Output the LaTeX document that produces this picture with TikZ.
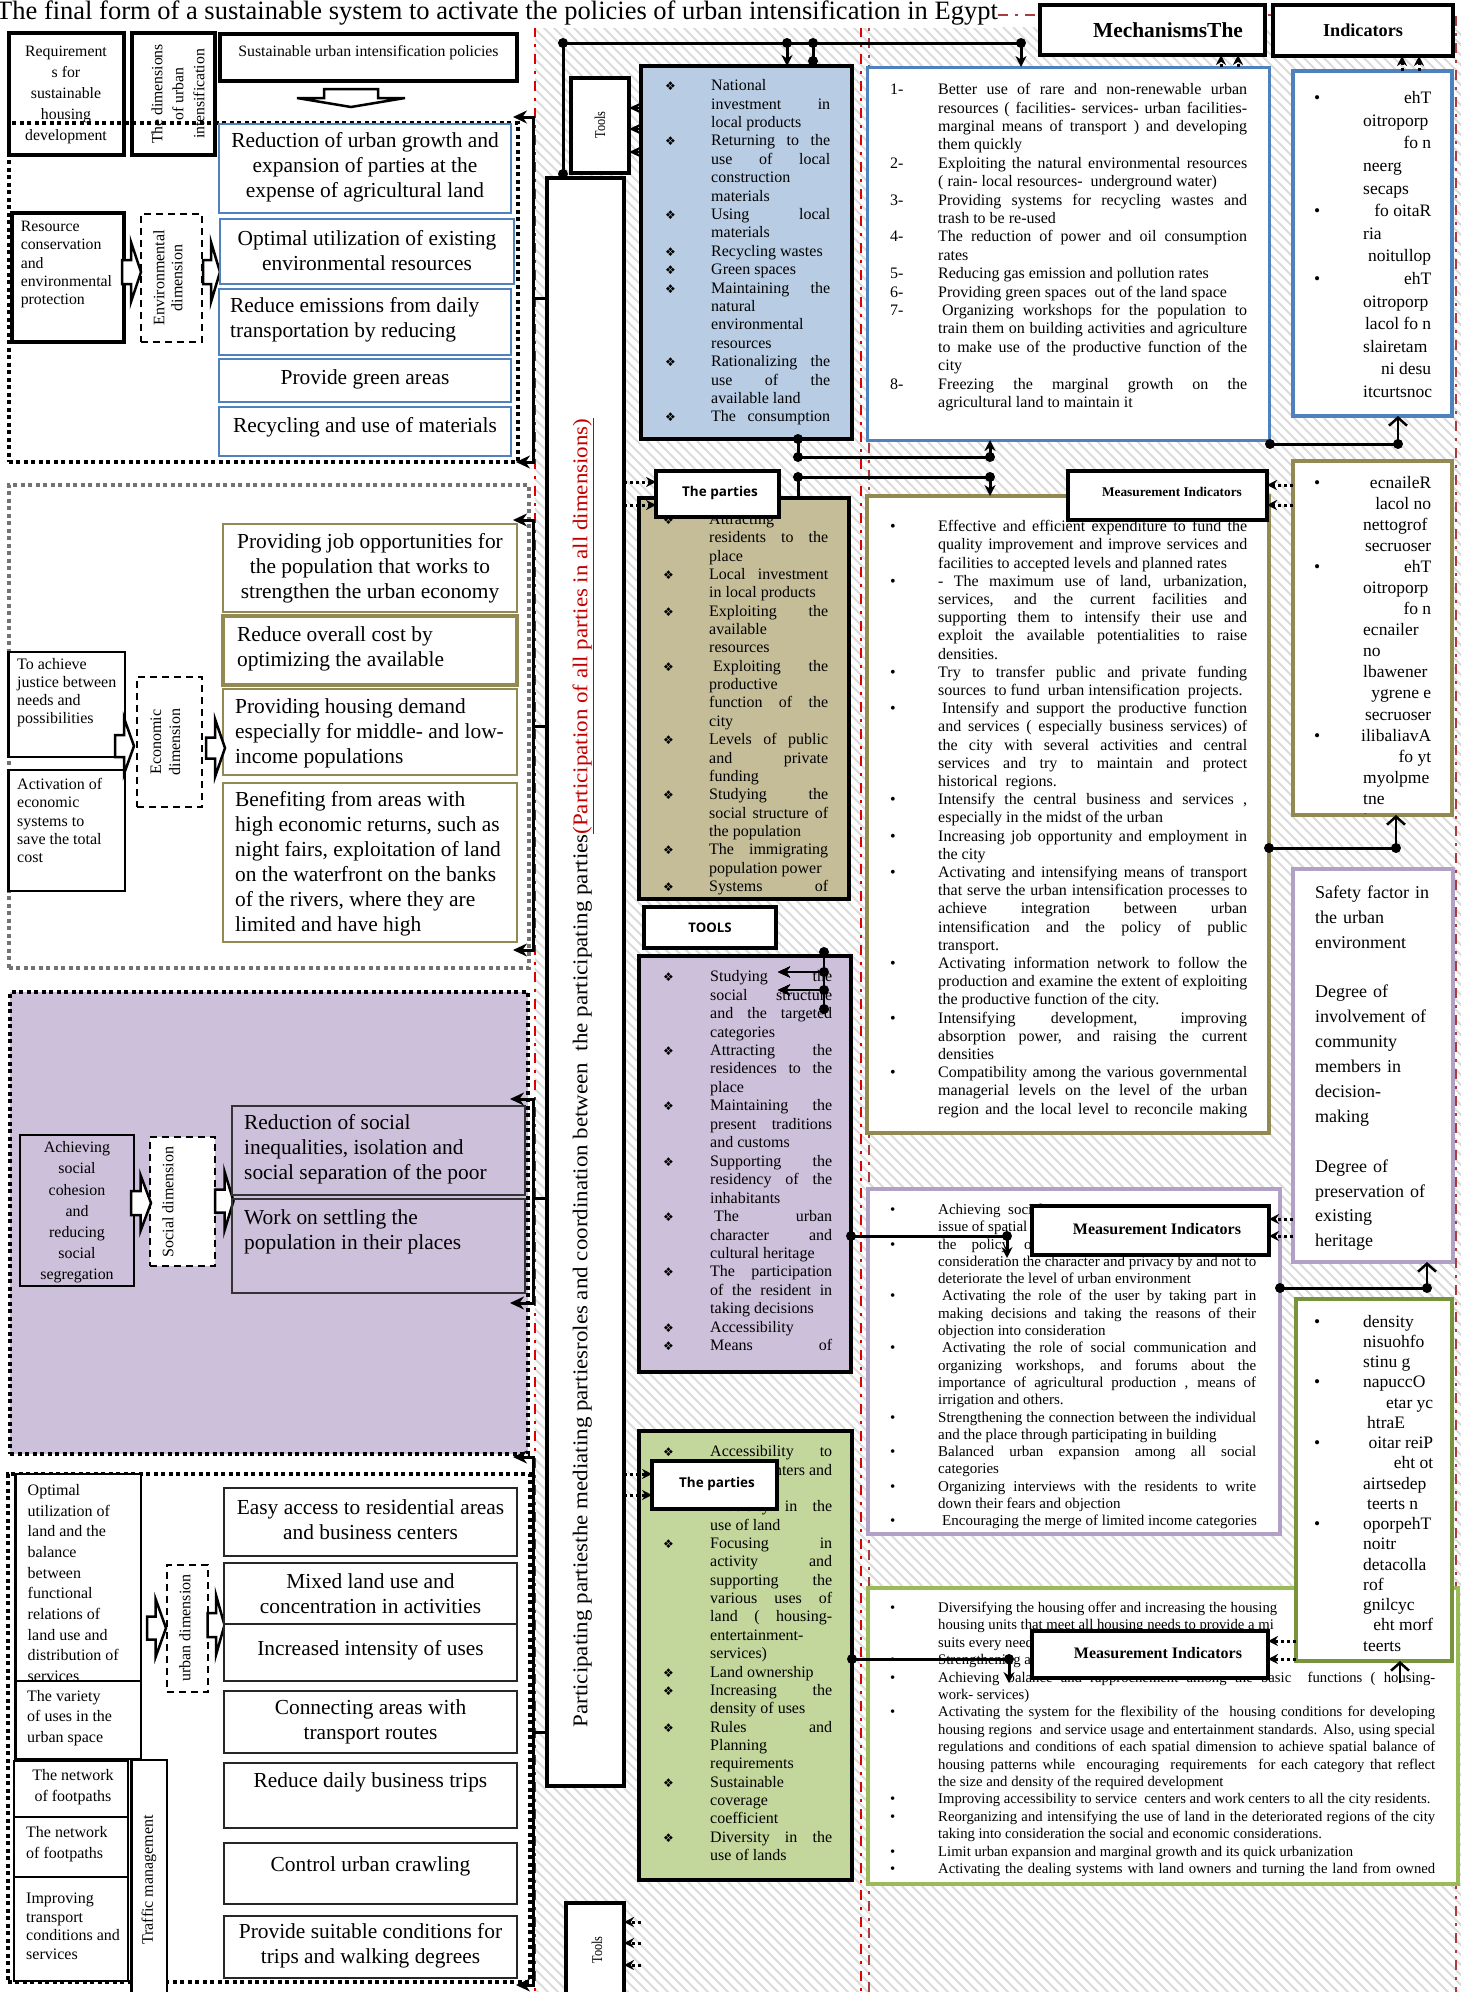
\documentclass[tikz,border=0pt]{standalone}
\usepackage{fontspec}
\setmainfont{Liberation Serif}
\newfontfamily\osans{Open Sans}
\newfontfamily\dejavu{DejaVu Sans}
\usetikzlibrary{arrows.meta}

\definecolor{blueb}{RGB}{79,129,189}
\definecolor{oliveb}{RGB}{147,137,83}
\definecolor{purpb}{RGB}{178,161,199}
\definecolor{greenb}{RGB}{155,187,89}
\definecolor{greend}{RGB}{119,147,60}
\definecolor{tblue}{RGB}{184,204,228}
\definecolor{tolive}{RGB}{196,189,151}
\definecolor{tpurp}{RGB}{204,192,218}
\definecolor{tgreen}{RGB}{195,214,155}
\definecolor{redl}{RGB}{225,0,0}
\definecolor{redd}{RGB}{170,60,60}
\definecolor{dred}{RGB}{192,0,0}

\newcommand\fs[2]{\fontsize{#1}{#2}\selectfont}
\newlength\bw
\newlength\tw
% one list line: marker column, then text column aligned l / r / s(pread)
\newcommand\LN[3]{\strut\makebox[\bw][l]{#1}\makebox[\tw][#2]{\spaceskip=0pt\xspaceskip=0pt #3}}
\newcommand\dia{{\dejavu\fontsize{12}{12}\selectfont ❖}}
\newcommand\bul{•}
% box given by its corners (x1,y1) (x2,y2), y counted downwards
\newcommand\rbox[6][]{\node[inner sep=0pt, outer sep=0pt, anchor=north west,
  minimum width={(#4)-(#2)}, minimum height={(#5)-(#3)}, #1] (#6) at (#2,#3) {};}
% hollow block arrow pointing right: x0 x1 x2 yc half-stem half-head
\newcommand\harr[6]{\draw[harrow] ({#1},{#4-#5}) -- ({#2},{#4-#5}) -- ({#2},{#4-#6}) -- ({#3},{#4})
  -- ({#2},{#4+#6}) -- ({#2},{#4+#5}) -- ({#1},{#4+#5}) -- cycle;}
\newcommand\jd[1]{\fill #1 circle (5pt);}

\tikzset{
  hatch/.style={draw=black!14, line width=1.8pt},
  redline/.style={draw=redl, line width=2.5pt, dash pattern=on 10pt off 7pt on 3pt off 7pt},
  redline2/.style={draw=redd, line width=2.5pt, dash pattern=on 10pt off 7pt on 3pt off 7pt},
  hdr/.style={draw, line width=4pt, fill=white},
  dotgrp/.style={draw, line width=4pt, dash pattern=on 4pt off 3.5pt},
  dashbox/.style={draw, line width=2pt, dash pattern=on 7pt off 5pt, fill=white},
  envb/.style={draw=blueb, line width=1.8pt, fill=white},
  econb/.style={draw=oliveb, line width=1.8pt, fill=white},
  lbox/.style={draw, line width=2.5pt, fill=white},
  sbox/.style={draw, line width=2.5pt},
  srbox/.style={draw=black!80, line width=2pt},
  ubox/.style={draw=black!85, line width=2pt, fill=white},
  tbox/.style={draw, line width=4pt},
  framebox/.style={line width=3.5pt, fill=white},
  harrow/.style={draw, line width=2.5pt, fill=white, line join=miter},
  lst/.style={anchor=west, inner sep=0pt, align=left},
  conn/.style={line width=3pt},
  carr/.style={line width=3pt, -{Stealth[length=11pt,width=11pt]}},
  iarr/.style={line width=2.5pt, -{Straight Barb[length=8pt,width=18pt]}},
  tarr/.style={line width=2pt, -{Stealth[length=12pt,width=11pt]}},
  darr/.style={line width=3pt, dash pattern=on 3pt off 3pt, -{Stealth[length=10pt,width=10pt]}},
  brk/.style={line width=3pt, {Stealth[length=14pt,width=13pt]}-{Stealth[length=14pt,width=13pt]}},
  big/.style={font=\fs{21.4}{25}},
  mi/.style={font=\fs{13.3}{15}\bfseries}
}

\begin{document}
\begin{tikzpicture}[x=1pt,y=-1pt]
\useasboundingbox (0,0) rectangle (1461,1992);
\fill[white] (0,0) rectangle (1461,1992);

% hatched ground of the middle and right columns
\begin{scope}
  \clip (535,27) rectangle (1461,1992);
  \foreach \i in {0,...,296} \draw[hatch] ({-1457+\i*10},27) -- ++(2000,2000);
\end{scope}
\draw[redline] (535,27) -- (535,1992);
\draw[redline] (861,27) -- (861,1992);
\draw[redline2] (869,1992) -- (869,15) -- (1456,15) -- (1456,1992);

% title
\node[anchor=base west, inner sep=0pt, inner ysep=3pt, fill=white, font=\fs{26.5}{30}] (title) at (-4,19)
  {The final form of a sustainable system to activate the policies of urban intensification in Egypt};

% ================= left column =================
% economic group (grey dots)
\rbox[dotgrp, draw=black!55]{8.6}{485}{529}{968}{ecg}
% social group (filled)
\rbox[dotgrp, fill=tpurp]{10}{992}{528}{1454}{sg}
% urban group
\rbox[dotgrp]{7.6}{1474}{530}{1982}{ug}

% header boxes
\rbox[hdr]{8.6}{33}{124}{155}{req}
\node[align=center, font=\fs{15.8}{21}] at (66,94.5) {Requirement\\s for\\sustainable\\housing\\development};
\rbox[hdr]{132}{33}{215}{155}{dims}
\begin{scope}
  \clip (134,35) rectangle (205,153);
  \node[rotate=90, align=center, font=\fs{15.7}{21}] at (178,94) {The dimensions\\of urban\\intensification};
\end{scope}
\rbox[hdr]{220}{34}{517}{81}{pol}
\node[font=\fs{15.8}{18}] at (368.5,53) {Sustainable urban intensification policies};
\draw[harrow] (324,89) -- (378,89) -- (378,98) -- (405,98) -- (351,107) -- (297,98) -- (324,98) -- cycle;

% environmental group
\rbox[dotgrp]{8.6}{123}{518}{462}{envg}
\rbox[hdr]{12}{213}{124}{342}{res}
\node[lst, font=\fs{15.8}{18.3}] at (20.6,264.6) {Resource\\conservation\\and\\environmental\\protection};
\rbox[dashbox]{141}{214}{202}{342}{envd}
\node[rotate=90, align=center, font=\fs{16}{18}] at (168,278) {Environmental\\dimension};
\harr{122}{131}{141}{272}{12}{30}
\harr{203}{211}{220}{272}{12}{30}
\rbox[envb]{219}{124}{511}{213}{e1}
\node[big, align=center] at (365,167) {Reduction of urban growth and\\expansion of parties at the\\expense of agricultural land};
\rbox[envb]{220}{219}{514}{284}{e2}
\node[big, align=center] at (367,250.5) {Optimal utilization of existing\\environmental resources};
\rbox[envb]{219}{289}{511}{355}{e3}
\node[big, lst] at (230,320) {Reduce emissions from daily\\transportation by reducing};
\rbox[envb]{219}{359}{511}{402}{e4}
\node[big] at (365,379) {Provide green areas};
\rbox[envb]{219}{407}{511}{456}{e5}
\node[big] at (365,427) {Recycling and use of materials};

% economic group content
\rbox[econb]{223}{524}{517}{612}{c1}
\node[big, align=center] at (370,568.5) {Providing job opportunities for\\the population that works to\\strengthen the urban economy};
\rbox[econb, line width=3.5pt]{223}{616}{517}{685}{c2}
\node[big, lst] at (237,649) {Reduce overall cost by\\optimizing the available};
\rbox[econb]{223}{689}{517}{775}{c3}
\node[big, lst] at (235,733.5) {Providing housing demand\\especially for middle- and low-\\income populations};
\rbox[econb]{223}{783}{517}{942}{c4}
\node[big, lst] at (235,864) {Benefiting from areas with\\high economic returns, such as\\night fairs, exploitation of land\\on the waterfront on the banks\\of the rivers, where they are\\limited and have high};
\rbox[lbox]{8.6}{652}{125}{757}{ec1}
\node[lst, font=\fs{16}{18}] at (17,693) {To achieve\\justice between\\needs and\\possibilities};
\rbox[lbox]{8.6}{770}{125}{891}{ec2}
\node[lst, font=\fs{16}{18.2}] at (17,820.6) {Activation of\\economic\\systems to\\save the total\\cost};
\rbox[dashbox]{137}{677}{202}{807}{ecd}
\node[rotate=90, align=center, font=\fs{16}{19}] at (165.5,742) {Economic\\dimension};
\harr{115}{124}{134}{746}{11}{28}
\harr{206}{215}{225}{748}{10.5}{29}

% social group content
\rbox[sbox]{20}{1135}{134}{1286}{sl}
\node[align=center, font=\fs{15.9}{21.2}] at (77,1212.5) {Achieving\\social\\cohesion\\and\\reducing\\social\\segregation};
\rbox[dashbox]{150}{1137}{215}{1266}{sd}
\node[rotate=90, font=\fs{16}{18}] at (168,1202) {Social dimension};
\harr{131}{140.5}{151}{1203}{12}{28}
\harr{215}{224.5}{233.5}{1201}{11.5}{29.5}
\rbox[srbox]{232}{1106}{525}{1195}{s1}
\node[big, lst] at (244,1149.7) {Reduction of social\\inequalities, isolation and\\social separation of the poor};
\rbox[srbox]{232}{1199}{525}{1293}{s2}
\node[big, lst] at (244,1231.5) {Work on settling the\\population in their places};

% urban group content
\rbox[lbox]{15.5}{1474}{141}{1681}{ul1}
\begin{scope}
  \clip (17,1476) rectangle (139,1679);
  \node[lst, font=\fs{16}{20.7}] at (27.5,1583) {Optimal\\utilization of\\land and the\\balance\\between\\functional\\relations of\\land use and\\distribution of\\services};
\end{scope}
\rbox[lbox]{15.5}{1681}{141}{1759}{ul2}
\node[lst, font=\fs{16}{20.7}] at (27,1718) {The variety\\of uses in the\\urban space};
\rbox[lbox]{14}{1761}{128}{1817}{ul3}
\node[align=center, font=\fs{16}{21.5}] at (73,1787) {The network\\of footpaths};
\rbox[lbox]{14}{1817}{128}{1877}{ul4}
\node[lst, font=\fs{16}{20.5}] at (26,1844) {The network\\of footpaths};
\rbox[lbox]{14}{1877}{128}{1981}{ul5}
\node[lst, font=\fs{16}{18.5}] at (26,1926.5) {Improving\\transport\\conditions and\\services};
\rbox[lbox]{131.5}{1760}{167}{1997}{tm}
\node[rotate=90, font=\fs{16}{18}] at (149,1880) {Traffic management};
\rbox[dashbox]{167}{1565}{208}{1692}{ud}
\node[rotate=90, font=\fs{16}{18}] at (185,1628) {urban dimension};
\harr{147}{155.6}{166}{1628}{11.5}{29}
\harr{207.6}{216}{224.5}{1625}{12}{30}
\rbox[ubox]{224}{1488}{517}{1556}{u1}
\node[big, align=center] at (370.5,1519.5) {Easy access to residential areas\\and business centers};
\rbox[ubox]{224}{1563}{517}{1624}{u2}
\node[big, align=center] at (370.5,1594) {Mixed land use and\\concentration in activities};
\rbox[ubox]{224}{1624}{517}{1681}{u3}
\node[big] at (370.5,1650) {Increased intensity of uses};
\rbox[ubox]{224}{1691}{517}{1753}{u4}
\node[big, align=center] at (370.5,1722) {Connecting areas with\\transport routes};
\rbox[ubox]{224}{1763}{517}{1828}{u5}
\node[big] at (370.5,1782) {Reduce daily business trips};
\rbox[ubox]{224}{1843}{517}{1904}{u6}
\node[big] at (370.5,1866) {Control urban crawling};
\rbox[ubox]{224}{1916}{517}{1978}{u7}
\node[big, align=center] at (370.5,1945.5) {Provide suitable conditions for\\trips and walking degrees};

% brackets gathering each group towards the participation column
\draw[brk] (513,117) -- (533,117) -- (533,462) -- (516,462);
\draw[brk] (513,520) -- (533,520) -- (533,950) -- (513,950);
\draw[brk] (510,1099) -- (533,1099) -- (533,1303) -- (510,1303);
\draw[brk] (513,1457) -- (533,1457) -- (533,1985) -- (516,1985);

% ================= middle column =================
\rbox[hdr]{547}{178}{624}{1786}{vbox}
\node[rotate=90, inner sep=0pt] (vtext) at (583,1073) {\resizebox*{1309pt}{21pt}{\fs{24}{24}Participating partiesthe mediating partiesroles and coordination between\ \ the participating parties\textcolor{dred}{\underline{(Participation of all parties in all dimensions)}}}};
\foreach \yy in {298,726,1198,1732} \draw[conn] (533,\yy) -- (547,\yy);

\rbox[hdr]{571}{77.5}{629}{173}{tools1}
\node[rotate=90] at (600,125) {\scalebox{0.82}[1]{\fs{15}{15}Tools}};

% blue tools box
\rbox[tbox, fill=tblue]{641}{66}{852}{439}{tb}
\begin{scope}
\clip (643,68) rectangle (850,437);
\node[lst, text width=165pt, font=\fs{16}{18.4}] at (665,252.6) {\setlength\bw{46pt}\setlength\tw{119pt}%
\LN{\dia}{l}{National}\\
\LN{}{s}{investment in}\\
\LN{}{l}{local products}\\
\LN{\dia}{s}{Returning to the}\\
\LN{}{s}{use of local}\\
\LN{}{l}{construction}\\
\LN{}{l}{materials}\\
\LN{\dia}{s}{Using local}\\
\LN{}{l}{materials}\\
\LN{\dia}{l}{Recycling wastes}\\
\LN{\dia}{l}{Green spaces}\\
\LN{\dia}{s}{Maintaining the}\\
\LN{}{l}{natural}\\
\LN{}{l}{environmental}\\
\LN{}{l}{resources}\\
\LN{\dia}{s}{Rationalizing the}\\
\LN{}{s}{use of the}\\
\LN{}{l}{available land}\\
\LN{\dia}{s}{The consumption}};
\end{scope}
\foreach \yy in {108,129,152} \draw[tarr] (641,\yy) -- (629,\yy);

% olive parties box
\rbox[tbox, fill=tolive]{639}{498}{849}{899}{ob}
\begin{scope}
\clip (641,500) rectangle (847,897);
\node[lst, text width=165pt, font=\fs{16}{18.37}] at (663,704.3) {\setlength\bw{46pt}\setlength\tw{119pt}%
\LN{\dia}{l}{Attracting}\\
\LN{}{s}{residents to the}\\
\LN{}{l}{place}\\
\LN{\dia}{s}{Local investment}\\
\LN{}{l}{in local products}\\
\LN{\dia}{s}{Exploiting the}\\
\LN{}{l}{available}\\
\LN{}{l}{resources}\\
\LN{\dia}{s}{\hspace{4pt}Exploiting the}\\
\LN{}{l}{productive}\\
\LN{}{s}{function of the}\\
\LN{}{l}{city}\\
\LN{\dia}{s}{Levels of public}\\
\LN{}{s}{and private}\\
\LN{}{l}{funding}\\
\LN{\dia}{s}{Studying the}\\
\LN{}{s}{social structure of}\\
\LN{}{l}{the population}\\
\LN{\dia}{s}{The immigrating}\\
\LN{}{l}{population power}\\
\LN{\dia}{s}{Systems of}};
\end{scope}
\rbox[hdr]{656}{471}{779}{517}{p1}
\node[font=\fs{13.5}{15}\osans\bfseries] at (720,493) {The parties};

% purple tools box
\rbox[hdr]{644}{907}{776}{948}{tl}
\node[font=\fs{13.2}{15}\osans\bfseries] at (710,928) {TOOLS};
\rbox[tbox, fill=tpurp]{639}{956}{851}{1372}{pb}
\begin{scope}
\clip (641,958) rectangle (849,1370);
\node[lst, text width=169pt, font=\fs{16}{18.45}] at (663,1162.5) {\setlength\bw{47pt}\setlength\tw{122pt}%
\LN{\dia}{s}{Studying the}\\
\LN{}{s}{social structure}\\
\LN{}{s}{and the targeted}\\
\LN{}{l}{categories}\\
\LN{\dia}{s}{Attracting the}\\
\LN{}{s}{residences to the}\\
\LN{}{l}{place}\\
\LN{\dia}{s}{Maintaining the}\\
\LN{}{s}{present traditions}\\
\LN{}{l}{and customs}\\
\LN{\dia}{s}{Supporting the}\\
\LN{}{s}{residency of the}\\
\LN{}{l}{inhabitants}\\
\LN{\dia}{s}{\hspace{4pt}The urban}\\
\LN{}{s}{character and}\\
\LN{}{l}{cultural heritage}\\
\LN{\dia}{s}{The participation}\\
\LN{}{s}{of the resident in}\\
\LN{}{l}{taking decisions}\\
\LN{\dia}{l}{Accessibility}\\
\LN{\dia}{s}{Means of}};
\end{scope}

% green parties box
\rbox[tbox, fill=tgreen]{639}{1431}{852}{1880}{gb}
\begin{scope}
\clip (641,1433) rectangle (850,1878);
\node[lst, text width=169pt, font=\fs{16}{18.35}] at (663,1655) {\setlength\bw{47pt}\setlength\tw{122pt}%
\LN{\dia}{s}{Accessibility to}\\
\LN{}{r}{centers and}\\
\LN{}{l}{}\\
\LN{\dia}{s}{Diversity in the}\\
\LN{}{l}{use of land}\\
\LN{\dia}{s}{Focusing in}\\
\LN{}{s}{activity and}\\
\LN{}{s}{supporting the}\\
\LN{}{s}{various uses of}\\
\LN{}{s}{land ( housing-}\\
\LN{}{l}{entertainment-}\\
\LN{}{l}{services)}\\
\LN{\dia}{l}{Land ownership}\\
\LN{\dia}{s}{Increasing the}\\
\LN{}{l}{density of uses}\\
\LN{\dia}{s}{Rules and}\\
\LN{}{l}{Planning}\\
\LN{}{l}{requirements}\\
\LN{\dia}{l}{Sustainable}\\
\LN{}{l}{coverage}\\
\LN{}{l}{coefficient}\\
\LN{\dia}{s}{Diversity in the}\\
\LN{}{l}{use of lands}};
\end{scope}
\rbox[hdr]{652}{1461}{777}{1509}{p2}
\node[font=\fs{13.5}{15}\osans\bfseries] at (717,1484) {The parties};

\rbox[hdr]{566}{1903}{624}{1998}{tools2}
\node[rotate=90] at (597,1950) {\scalebox{0.82}[1]{\fs{15}{15}Tools}};

% ================= right columns =================
\rbox[hdr]{1040}{5}{1265}{55}{mlab}
\node[font=\fs{21.4}{24}\bfseries] at (1168,30) {MechanismsThe};
\rbox[hdr]{1273}{5}{1453}{56}{ilab}
\node[font=\fs{18.2}{20}\bfseries] at (1363,30) {Indicators};

% mechanisms
\rbox[framebox, draw=blueb, line width=3pt]{867}{67}{1269}{440}{mech}
\node[lst, text width=357pt, font=\fs{16}{18.4}] at (890,247.4) {\setlength\bw{48pt}\setlength\tw{309pt}%
\LN{1-}{s}{Better use of rare and non-renewable urban}\\
\LN{}{s}{resources ( facilities- services- urban facilities-}\\
\LN{}{s}{marginal means of transport ) and developing}\\
\LN{}{l}{them quickly}\\
\LN{2-}{s}{Exploiting the natural environmental resources}\\
\LN{}{l}{( rain- local resources-\ \ underground water)}\\
\LN{3-}{s}{Providing systems for recycling wastes and}\\
\LN{}{l}{trash to be re-used}\\
\LN{4-}{s}{The reduction of power and oil consumption}\\
\LN{}{l}{rates}\\
\LN{5-}{l}{Reducing gas emission and pollution rates}\\
\LN{6-}{l}{Providing green spaces\ \ out of the land space}\\
\LN{7-}{s}{\hspace{4pt}Organizing workshops for the population to}\\
\LN{}{s}{train them on building activities and agriculture}\\
\LN{}{s}{to make use of the productive function of the}\\
\LN{}{l}{city}\\
\LN{8-}{s}{Freezing the marginal growth on the}\\
\LN{}{l}{agricultural land to maintain it}};

% indicators of the environmental row
\rbox[framebox, draw=blueb]{1293}{71}{1452}{416}{ib}
\node[lst, text width=117pt, font=\fs{17.5}{22.6}] at (1314,246) {\setlength\bw{49pt}\setlength\tw{68pt}%
\LN{\bul}{r}{ehT}\\
\LN{}{l}{oitroporp}\\
\LN{}{r}{fo n}\\
\LN{}{l}{neerg}\\
\LN{}{l}{secaps}\\
\LN{\bul}{r}{fo oitaR}\\
\LN{}{l}{ria}\\
\LN{}{r}{noitullop}\\
\LN{\bul}{r}{ehT}\\
\LN{}{l}{oitroporp}\\
\LN{}{r}{lacol fo n}\\
\LN{}{l}{slairetam}\\
\LN{}{r}{ni desu}\\
\LN{}{l}{itcurtsnoc}};

% economic measurement indicators
\rbox[framebox, draw=oliveb]{867}{496}{1269}{1133}{emi}
\begin{scope}
\clip (869,498) rectangle (1267,1131);
\node[lst, text width=357pt, font=\fs{16}{18.2}] at (890,819.3) {\setlength\bw{48pt}\setlength\tw{309pt}%
\LN{\bul}{s}{Effective and efficient expenditure to fund the}\\
\LN{}{s}{quality improvement and improve services and}\\
\LN{}{l}{facilities to accepted levels and planned rates}\\
\LN{\bul}{s}{- The maximum use of land, urbanization,}\\
\LN{}{s}{services, and the current facilities and}\\
\LN{}{s}{supporting them to intensify their use and}\\
\LN{}{s}{exploit the available potentialities to raise}\\
\LN{}{l}{densities.}\\
\LN{\bul}{s}{Try to transfer public and private funding}\\
\LN{}{l}{sources\ \ to fund\ \ urban intensification\ \ projects.}\\
\LN{\bul}{s}{\hspace{4pt}Intensify and support the productive function}\\
\LN{}{s}{and services ( especially business services) of}\\
\LN{}{s}{the city with several activities and central}\\
\LN{}{s}{services and try to maintain and protect}\\
\LN{}{l}{historical\ \ regions.}\\
\LN{\bul}{s}{Intensify the central business and services ,}\\
\LN{}{l}{especially in the midst of the urban}\\
\LN{\bul}{s}{Increasing job opportunity and employment in}\\
\LN{}{l}{the city}\\
\LN{\bul}{s}{Activating and intensifying means of transport}\\
\LN{}{s}{that serve the urban intensification processes to}\\
\LN{}{s}{achieve integration between urban}\\
\LN{}{s}{intensification and the policy of public}\\
\LN{}{l}{transport.}\\
\LN{\bul}{s}{Activating information network to follow the}\\
\LN{}{s}{production and examine the extent of exploiting}\\
\LN{}{l}{the productive function of the city.}\\
\LN{\bul}{s}{Intensifying development, improving}\\
\LN{}{s}{absorption power, and raising the current}\\
\LN{}{l}{densities}\\
\LN{\bul}{s}{Compatibility among the various governmental}\\
\LN{}{s}{managerial levels on the level of the urban}\\
\LN{}{s}{region and the local level to reconcile making}};
\end{scope}
\rbox[hdr]{1068}{471}{1267}{520}{emil}
\node[mi] at (1172,492) {Measurement Indicators};

\rbox[framebox, draw=oliveb]{1293}{461}{1452}{815}{io}
\begin{scope}
\clip (1295,463) rectangle (1450,813);
\node[lst, text width=117pt, font=\fs{17.5}{21.07}] at (1314,652.6) {\setlength\bw{49pt}\setlength\tw{68pt}%
\LN{\bul}{r}{ecnaileR}\\
\LN{}{r}{lacol no}\\
\LN{}{l}{nettogrof}\\
\LN{}{r}{secruoser}\\
\LN{\bul}{r}{ehT}\\
\LN{}{l}{oitroporp}\\
\LN{}{r}{fo n}\\
\LN{}{l}{ecnailer}\\
\LN{}{l}{no}\\
\LN{}{l}{lbawener}\\
\LN{}{r}{ygrene e}\\
\LN{}{r}{secruoser}\\
\LN{\bul}{r}{ilibaliavA}\\
\LN{}{r}{fo yt}\\
\LN{}{l}{myolpme}\\
\LN{}{l}{tne}\\
\LN{}{r}{inutroppo}};
\end{scope}

% social indicators
\rbox[framebox, draw=purpb]{1293}{869}{1453}{1262}{sf}
\node[lst, text width=135pt, font=\fs{18}{24.9}] at (1315,1067.6) {\strut Safety factor in\\\strut the urban\\\strut environment\\\strut\\\strut Degree of\\\strut involvement of\\\strut community\\\strut members in\\\strut decision-\\\strut making\\\strut\\\strut Degree of\\\strut preservation of\\\strut existing\\\strut heritage};

\rbox[framebox, draw=purpb]{868}{1189}{1280}{1534}{smi}
\begin{scope}
\clip (870,1191) rectangle (1278,1532);
\node[lst, text width=366pt, font=\fs{15}{17.3}] at (890,1366.7) {\setlength\bw{48pt}\setlength\tw{318pt}%
\LN{\bul}{l}{Achieving\ \ social}\\
\LN{}{l}{issue of spatial}\\
\LN{\bul}{l}{the\quad policy\quad of}\\
\LN{}{s}{consideration the character and privacy by and not to}\\
\LN{}{l}{deteriorate the level of urban environment}\\
\LN{\bul}{s}{\hspace{4pt}Activating the role of the user by taking part in}\\
\LN{}{s}{making decisions and taking the reasons of their}\\
\LN{}{l}{objection into consideration}\\
\LN{\bul}{s}{\hspace{4pt}Activating the role of social communication and}\\
\LN{}{s}{organizing workshops, and forums about the}\\
\LN{}{s}{importance of agricultural production , means of}\\
\LN{}{l}{irrigation and others.}\\
\LN{\bul}{s}{Strengthening the connection between the individual}\\
\LN{}{l}{and the place through participating in building}\\
\LN{\bul}{s}{Balanced urban expansion among all social}\\
\LN{}{l}{categories}\\
\LN{\bul}{s}{Organizing interviews with the residents to write}\\
\LN{}{l}{down their fears and objection}\\
\LN{\bul}{l}{\hspace{4pt}Encouraging the merge of limited income categories}};
\end{scope}
\rbox[hdr]{1032}{1206}{1269}{1255}{smil}
\node[mi, font=\fs{16}{18}\bfseries] at (1157,1229) {Measurement Indicators};

% urban measurement indicators
\rbox[framebox, draw=greenb]{868}{1588}{1458}{1884}{umi}
\begin{scope}
\clip (870,1590) rectangle (1456,1882);
\node[lst, text width=545pt, font=\fs{14.7}{17.4}] at (890,1739.5) {\setlength\bw{48pt}\setlength\tw{497pt}%
\LN{\bul}{l}{Diversifying the housing offer and increasing the housing}\\
\LN{}{l}{housing units that meet all housing needs to provide a mi}\\
\LN{}{l}{suits every need}\\
\LN{\bul}{l}{Strengthening a}\\
\LN{\bul}{s}{Achieving balance and rapprochement among the basic\ \ functions ( housing-}\\
\LN{}{l}{work- services)}\\
\LN{\bul}{s}{Activating the system for the flexibility of the\ \ housing conditions for developing}\\
\LN{}{s}{housing regions\ \ and service usage and entertainment standards. Also, using special}\\
\LN{}{s}{regulations and conditions of each spatial dimension to achieve spatial balance of}\\
\LN{}{s}{housing patterns while\ \ encouraging\ \ requirements\ \ for each category that reflect}\\
\LN{}{l}{the size and density of the required development}\\
\LN{\bul}{l}{Improving accessibility to service\ \ centers and work centers to all the city residents.}\\
\LN{\bul}{s}{Reorganizing and intensifying the use of land in the deteriorated regions of the city}\\
\LN{}{l}{taking into consideration the social and economic considerations.}\\
\LN{\bul}{l}{Limit urban expansion and marginal growth and its quick urbanization}\\
\LN{\bul}{s}{Activating the dealing systems with land owners and turning the land from owned}};
\end{scope}
\rbox[framebox, draw=greend, line width=4pt]{1296}{1299}{1452}{1661}{ig}
\node[lst, text width=119pt, font=\fs{17.5}{20.25}] at (1314,1485) {\setlength\bw{49pt}\setlength\tw{70pt}%
\LN{\bul}{l}{density}\\
\LN{}{l}{nisuohfo}\\
\LN{}{l}{stinu g}\\
\LN{\bul}{l}{napuccO}\\
\LN{}{r}{etar yc}\\
\LN{}{l}{\hspace{4pt}htraE}\\
\LN{\bul}{r}{oitar reiP}\\
\LN{}{r}{eht ot}\\
\LN{}{l}{airtsedep}\\
\LN{}{l}{\hspace{4pt}teerts n}\\
\LN{\bul}{l}{oporpehT}\\
\LN{}{l}{noitr}\\
\LN{}{l}{detacolla}\\
\LN{}{l}{rof}\\
\LN{}{l}{gnilcyc}\\
\LN{}{r}{eht morf}\\
\LN{}{l}{teerts}};
\rbox[hdr]{1032}{1631}{1268}{1678}{umil}
\node[mi, font=\fs{16}{18}\bfseries] at (1158,1653) {Measurement Indicators};

% ================= connectors =================
\coordinate (t0) at (563,43);
\coordinate (t1) at (787,43);
\coordinate (t2) at (813,43);
\coordinate (t3) at (1021,43);
\draw[conn] (vbox.north -| t0) -- (t0) -- (t3);
\draw[carr] (t1) -- (t1 |- tb.north);
\draw[conn] (t2) -- (t2 |- tb.north);
\draw[carr] (t3) -- (t3 |- mech.north);
\jd{(t0)} \jd{(t1)} \jd{(t2)} \jd{(t3)} \jd{(563,174)} \jd{(813,61)}
\foreach \xx in {1221,1238} \draw[darr] (\xx,67) -- (\xx,55);
\foreach \xx in {1402,1419} \draw[darr] (\xx,71) -- (\xx,56);

\coordinate (b1) at (798,457);
\coordinate (b2) at (798,477);
\coordinate (b3) at (990,457);
\coordinate (b4) at (990,477);
\draw[conn] (b1 |- tb.south) -- (b1) -- (b3);
\draw[carr] (b3) -- (b3 |- mech.south);
\draw[conn] (b2 |- ob.north) -- (b2) -- (b4);
\draw[carr] (b4) -- (b4 |- emi.north);
\jd{(b1 |- tb.south)} \jd{(b1)} \jd{(b2)} \jd{(b3)} \jd{(b4)}

\coordinate (m1) at (1270,444);
\coordinate (m2) at (1398,444);
\draw[conn] (m1) -- (m2);
\draw[iarr] (m2) -- (m2 |- ib.south);
\jd{(m1)} \jd{(m2)}

\coordinate (n1) at (1269,848);
\coordinate (n2) at (1396,848);
\draw[conn] (n1) -- (n2);
\draw[iarr] (n2) -- (n2 |- io.south);
\jd{(n1)} \jd{(n2)}
\foreach \yy in {485,505} \draw[darr] (1293,\yy) -- (1267,\yy);

\foreach \yy in {482,505} \draw[darr] (624,\yy) -- (656,\yy);
\foreach \yy in {1474,1495} \draw[darr] (624,\yy) -- (652,\yy);
\foreach \yy in {1922,1943,1965} \draw[darr] (641,\yy) -- (624,\yy);

\draw[line width=2.5pt] (824,952) -- (824,1009);
\foreach \yy in {952,972,990,1009} \jd{(824,\yy)}
\foreach \yy in {972,990} \draw[line width=2.5pt, -{Stealth[length=12pt,width=11pt]}] (824,\yy) -- (778,\yy);

\coordinate (q1) at (851,1236);
\coordinate (q2) at (1007,1236);
\draw[conn] (q1) -- (q2);
\draw[carr] (q2) -- (1007,1258);
\jd{(q1)} \jd{(q2)}

\coordinate (r1) at (852,1659);
\coordinate (r2) at (1009,1659);
\draw[conn] (r1) -- (r2);
\draw[carr] (r2) -- (1009,1683);
\jd{(r1)} \jd{(r2)}

\coordinate (s1c) at (1280,1288);
\coordinate (s2c) at (1427,1288);
\draw[conn] (s1c) -- (s2c);
\draw[iarr] (s2c) -- (s2c |- sf.south);
\jd{(s1c)} \jd{(s2c)}
\foreach \yy in {1219,1236} \draw[darr] (1293,\yy) -- (1269,\yy);
\foreach \yy in {1641,1659} \draw[darr] (1296,\yy) -- (1268,\yy);
\draw[iarr] (1400,1683) -- (1400,1661);
\end{tikzpicture}
\end{document}
